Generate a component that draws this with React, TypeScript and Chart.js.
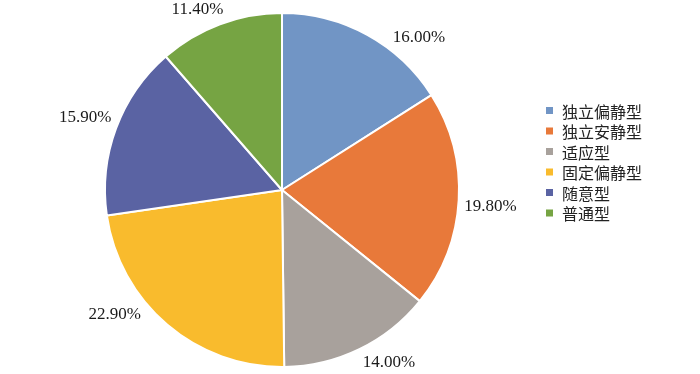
import React, { useEffect, useRef } from "react";
import { Chart, registerables } from "chart.js";

Chart.register(...registerables);

const categories = ["独立偏静型", "独立安静型", "适应型", "固定偏静型", "随意型", "普通型"];
const shares = [16.0, 19.8, 14.0, 22.9, 15.9, 11.4];
const colors = ["#7195C5", "#E8793A", "#A8A19C", "#F9BB2D", "#5A63A3", "#76A443"];
// small angular nudges (degrees) to mimic manual label placement
const labelShift = [13, 1, -6, 13, 0, -4.5];

const pctLabelPlugin = {
  id: "pctLabels",
  afterDatasetsDraw(chart: any) {
    const ctx = chart.ctx;
    const meta = chart.getDatasetMeta(0);
    const ds = chart.data.datasets[0];
    ctx.save();
    ctx.font = '17px "Liberation Serif", "Times New Roman", serif';
    ctx.fillStyle = "#1a1a1a";
    ctx.textAlign = "center";
    ctx.textBaseline = "middle";
    meta.data.forEach((arc: any, i: number) => {
      const { x, y, startAngle, endAngle, outerRadius } = arc.getProps(
        ["x", "y", "startAngle", "endAngle", "outerRadius"],
        true
      );
      const mid = (startAngle + endAngle) / 2 + (labelShift[i] * Math.PI) / 180;
      const text = Number(ds.data[i]).toFixed(2) + "%";
      const w = ctx.measureText(text).width;
      const h = 17;
      const target = outerRadius + 5;
      let d = outerRadius;
      for (let k = 0; k < 400; k++) {
        const cx = Math.cos(mid) * d;
        const cy = Math.sin(mid) * d;
        const dx = Math.max(Math.abs(cx) - w / 2, 0);
        const dy = Math.max(Math.abs(cy) - h / 2, 0);
        if (Math.hypot(dx, dy) >= target) break;
        d += 0.5;
      }
      ctx.fillText(text, x + Math.cos(mid) * d, y + Math.sin(mid) * d + 1);
    });
    ctx.restore();
  },
};

const legendPlugin = {
  id: "sideLegend",
  afterDraw(chart: any) {
    const ctx = chart.ctx;
    const ds = chart.data.datasets[0];
    const area = chart.chartArea;
    const bx = area.right + 86;
    const top = 110.5;
    const step = 20.5;
    ctx.save();
    ctx.font = '16px "Noto Sans CJK SC", sans-serif';
    ctx.textBaseline = "middle";
    ctx.textAlign = "left";
    chart.data.labels.forEach((lab: string, i: number) => {
      const yy = top + i * step;
      ctx.fillStyle = ds.backgroundColor[i];
      ctx.fillRect(bx, yy - 3.5, 7, 7);
      ctx.fillStyle = "#222222";
      ctx.fillText(lab, bx + 16, yy + 1);
    });
    ctx.restore();
  },
};

export default function App() {
  const ref = useRef<HTMLCanvasElement>(null);
  useEffect(() => {
    if (!ref.current) return;
    const chart = new Chart(ref.current, {
      type: "pie",
      data: {
        labels: categories,
        datasets: [
          {
            data: shares,
            backgroundColor: colors,
            borderColor: "#ffffff",
            borderWidth: 2,
          },
        ],
      },
      options: {
        responsive: false,
        animation: false,
        layout: { padding: { left: 104, right: 240, top: 12, bottom: 6 } },
        plugins: {
          legend: { display: false },
          tooltip: { enabled: false },
        },
      },
      plugins: [pctLabelPlugin, legendPlugin],
    });
    return () => chart.destroy();
  }, []);
  return (
    <div style={{ position: "absolute", left: 0, top: 0, width: 700, height: 374, background: "#fff" }}>
      <canvas ref={ref} width={700} height={374} style={{ width: 700, height: 374 }} />
    </div>
  );
}
